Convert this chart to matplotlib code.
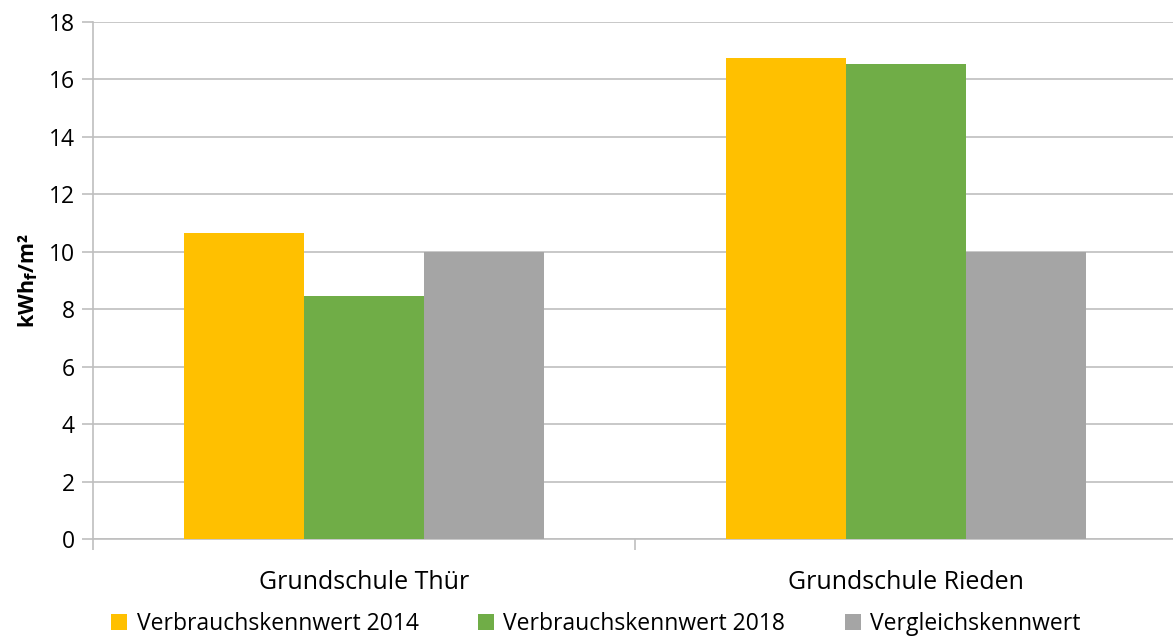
import numpy as np
import matplotlib
matplotlib.use("Agg")
import matplotlib.pyplot as plt

plt.rcParams['font.family'] = ['Open Sans', 'DejaVu Sans']

schools = ['Grundschule Thür', 'Grundschule Rieden']
series = ['Verbrauchskennwert 2014', 'Verbrauchskennwert 2018', 'Vergleichskennwert']
values_2014 = [10.65, 16.73]
values_2018 = [8.45, 16.55]
values_ref = [10.0, 10.0]
colors = ['#FFC000', '#70AD47', '#A5A5A5']
yticks = [0, 2, 4, 6, 8, 10, 12, 14, 16, 18]

fig = plt.figure(figsize=(11.73, 6.41), dpi=100)
ax = fig.add_axes([93/1173, 102/641, 1084/1173, 517/641])

x = np.arange(len(schools))
w = 0.2215
data = [values_2014, values_2018, values_ref]
for i, (vals, lab, c) in enumerate(zip(data, series, colors)):
    ax.bar(x + (i - 1) * w, vals, w, color=c, label=lab, zorder=3)

ax.set_xlim(-0.5, 1.5)
ax.set_ylim(0, 18)
ax.set_yticks(yticks)
ax.yaxis.grid(True, color='#BFBFBF', linewidth=1.2, zorder=0)

# category boundary ticks, labels placed separately
ax.set_xticks([-0.5, 0.5, 1.5])
ax.set_xticklabels([])
ax.set_xticks(x, minor=True)
ax.set_xticklabels(schools, minor=True, fontsize=18)
ax.tick_params(axis='x', which='minor', length=0, pad=22)
ax.tick_params(axis='x', which='major', length=8, color='#BFBFBF', width=1.2)
ax.tick_params(axis='y', length=8, color='#BFBFBF', width=1.2, labelsize=16.5, pad=5)

for s in ['top', 'right']:
    ax.spines[s].set_visible(False)
for s in ['left', 'bottom']:
    ax.spines[s].set_color('#BFBFBF')
    ax.spines[s].set_linewidth(1.2)

plt.rcParams['mathtext.fontset'] = 'dejavusans'
ax.set_ylabel('kWh$_\\mathbf{f}$/m²', fontsize=15.5, fontweight='bold', labelpad=6)

fig.legend(loc='lower center', bbox_to_anchor=(0.508, -0.025), ncol=3, frameon=False,
           fontsize=16.5, handlelength=0.7, handleheight=0.7, handletextpad=0.4,
           columnspacing=2.6)

fig.savefig('out.png', dpi=100)
